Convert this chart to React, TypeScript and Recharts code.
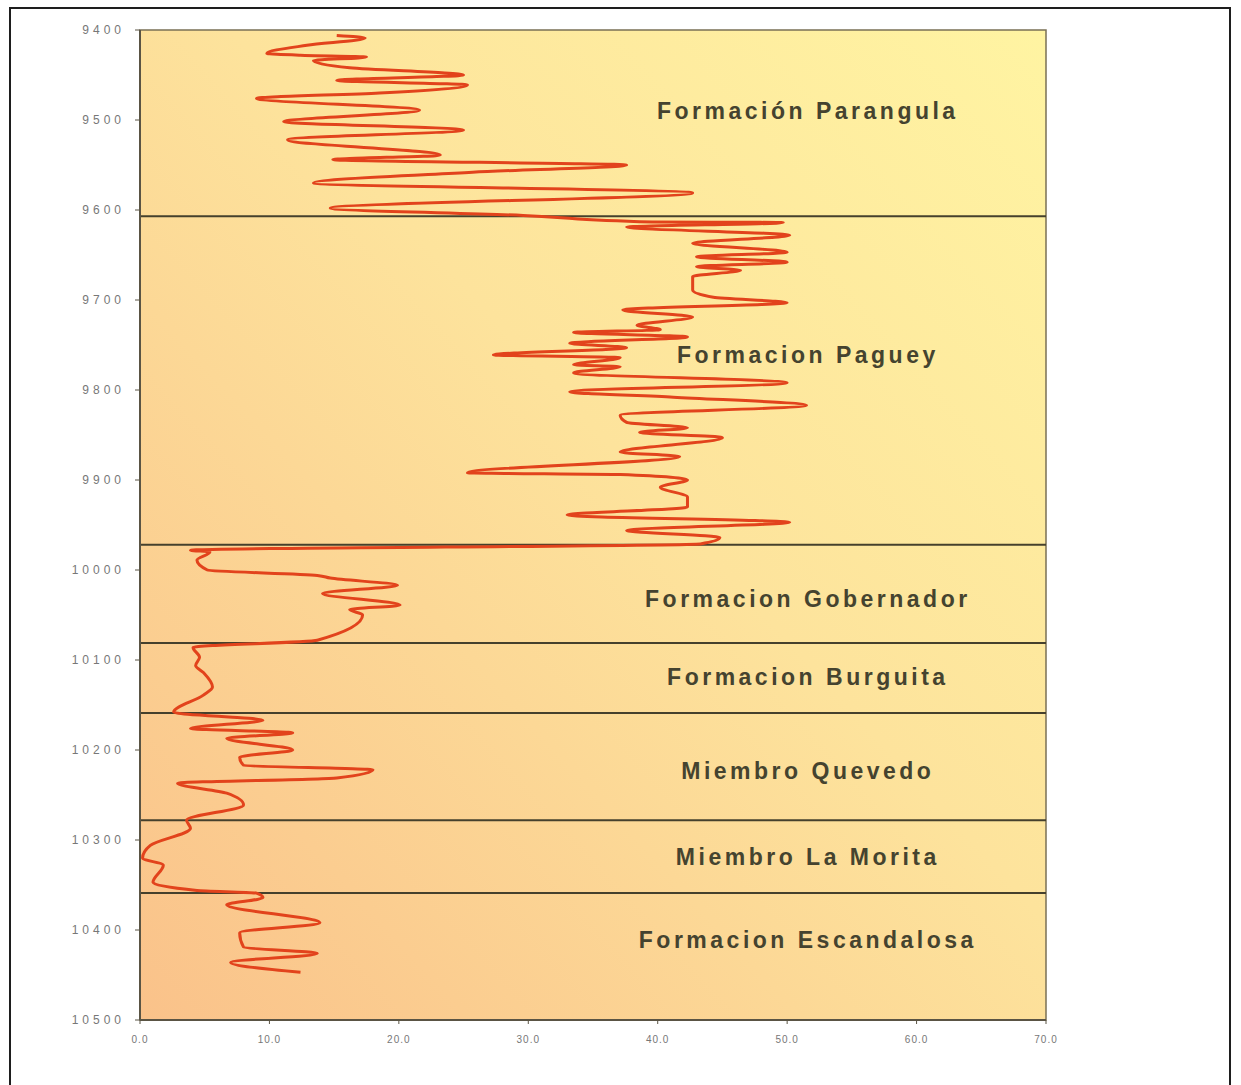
import React from 'react';
import {
  ScatterChart,
  Scatter,
  XAxis,
  YAxis,
  ReferenceArea,
  ReferenceLine,
  ReferenceDot,
} from 'recharts';

// Gamma-ray style log: reading (x) vs depth (y, ft)
const depths = [
  9406, 9409, 9417, 9426, 9428, 9430, 9434, 9442, 9450, 9456, 9461, 9470, 9476,
  9489, 9502, 9511, 9522, 9539, 9544, 9550, 9558, 9570, 9581, 9598, 9606,
  9613, 9614, 9619, 9628, 9637, 9647, 9652, 9658, 9663, 9667, 9674, 9689, 9697,
  9703, 9711, 9719, 9728, 9733, 9736, 9741, 9748, 9753, 9761, 9764, 9772, 9774,
  9781, 9792, 9802, 9808, 9817, 9828, 9836, 9842, 9847, 9853, 9869, 9874, 9892,
  9894, 9900, 9908, 9919, 9930, 9939, 9947, 9956, 9964, 9971,
  9978, 9980, 9989, 10000, 10006, 10009, 10017, 10026, 10039, 10044, 10050,
  10078, 10086,
  10097, 10106, 10114, 10130, 10139, 10158,
  10167, 10176, 10181, 10187, 10200, 10208, 10217, 10222, 10231, 10237, 10248,
  10261, 10278,
  10287, 10306, 10320, 10328, 10347, 10356, 10359,
  10364, 10372, 10392, 10403, 10419, 10426, 10436, 10447,
];

const readings = [
  15.2, 17.4, 12.9, 9.8, 12.4, 17.5, 13.4, 16.2, 25.0, 15.2, 25.3, 18.5, 9.0,
  21.6, 11.1, 25.0, 11.4, 23.2, 14.9, 37.6, 25.7, 13.4, 42.7, 14.7, 29.6,
  38.6, 49.7, 37.6, 50.2, 42.7, 50.0, 43.0, 50.0, 43.0, 46.4, 42.7, 42.7, 44.3,
  50.0, 37.3, 42.7, 38.4, 40.2, 33.5, 42.3, 33.2, 37.6, 27.3, 37.1, 33.5, 37.1,
  33.5, 50.0, 33.2, 41.2, 51.5, 37.1, 37.6, 42.3, 38.6, 45.0, 37.1, 41.7, 25.3,
  37.1, 42.3, 40.2, 42.3, 42.3, 33.0, 50.2, 37.6, 44.8, 43.3,
  3.9, 5.4, 4.4, 5.2, 13.7, 14.7, 19.9, 14.1, 20.1, 16.2, 17.2,
  13.7, 4.1,
  4.6, 4.3, 4.9, 5.6, 4.9, 2.6,
  9.5, 3.9, 11.8, 6.7, 11.8, 7.7, 8.0, 18.0, 15.2, 2.9, 6.7,
  8.0, 3.6,
  3.9, 0.8, 0.2, 1.8, 1.0, 4.4, 9.0,
  9.5, 6.7, 13.9, 7.7, 8.0, 13.7, 7.0, 12.4,
];

const boundaryDepths = [9607, 9972, 10081, 10159, 10278, 10359];

const formationNames = [
  'Formación Parangula',
  'Formacion Paguey',
  'Formacion Gobernador',
  'Formacion Burguita',
  'Miembro Quevedo',
  'Miembro La Morita',
  'Formacion Escandalosa',
];
const formationLabelDepths = [9490, 9761, 10032, 10119, 10223, 10319, 10411];

const depthTicks = [
  9400, 9500, 9600, 9700, 9800, 9900, 10000, 10100, 10200, 10300, 10400, 10500,
];
const readingTicks = [0, 10, 20, 30, 40, 50, 60, 70];

const logData = depths.map((d, i) => ({ depth: d, value: readings[i] }));

export default function App() {
  return (
    <div style={{ position: 'absolute', left: 0, top: 0, width: 1241, height: 1085, background: '#fff', overflow: 'hidden' }}>
      <div
        style={{
          position: 'absolute',
          left: 9,
          top: 7,
          width: 1222,
          height: 1100,
          border: '2px solid #1e1e1e',
          boxSizing: 'border-box',
        }}
      />
      <div style={{ position: 'absolute', left: 0, top: 0 }}>
        <ScatterChart
          width={1241}
          height={1085}
          margin={{ top: 30, right: 195, left: 80, bottom: 35 }}
        >
          <defs>
            <linearGradient id="bgGrad" x1="1" y1="0" x2="0" y2="1">
              <stop offset="0%" stopColor="#fff4a2" />
              <stop offset="45%" stopColor="#fde39c" />
              <stop offset="100%" stopColor="#fac28a" />
            </linearGradient>
          </defs>
          <XAxis
            type="number"
            dataKey="value"
            domain={[0, 70]}
            ticks={readingTicks}
            tickFormatter={(v: number) => v.toFixed(1)}
            tick={{ fontSize: 10, fill: '#777', fontFamily: 'Liberation Sans, Arial', letterSpacing: 1 }}
            axisLine={{ stroke: '#5a5444', strokeWidth: 2 }}
            tickLine={{ stroke: '#5a5444' }}
            tickSize={4}
            tickMargin={12}
            height={30}
          />
          <YAxis
            type="number"
            dataKey="depth"
            domain={[9400, 10500]}
            ticks={depthTicks}
            reversed
            tick={{ fontSize: 12, fill: '#777', fontFamily: 'Liberation Sans, Arial', letterSpacing: 4 }}
            axisLine={{ stroke: '#5a5444', strokeWidth: 2 }}
            tickLine={{ stroke: '#5a5444' }}
            tickSize={5}
            tickMargin={10}
            width={60}
          />
          <ReferenceArea
            x1={0}
            x2={70}
            y1={9400}
            y2={10500}
            fill="url(#bgGrad)"
            fillOpacity={1}
            stroke="#7a7055"
            strokeWidth={1.5}
          />
          {boundaryDepths.map((d) => (
            <ReferenceLine key={d} y={d} stroke="#45402c" strokeWidth={2} />
          ))}
          <Scatter
            data={logData}
            line={{ stroke: '#e2431c', strokeWidth: 3 }}
            lineJointType="monotoneY"
            shape={() => <g />}
            legendType="none"
            isAnimationActive={false}
          />
          {formationNames.map((name, i) => (
            <ReferenceDot
              key={name}
              x={51.6}
              y={formationLabelDepths[i]}
              r={0}
              fill="none"
              stroke="none"
              label={{
                value: name,
                position: 'center',
                fill: '#45432f',
                fontSize: 23,
                fontWeight: 'bold',
                letterSpacing: 3.5,
                fontFamily: 'Liberation Sans, Arial',
              }}
            />
          ))}
        </ScatterChart>
      </div>
    </div>
  );
}
